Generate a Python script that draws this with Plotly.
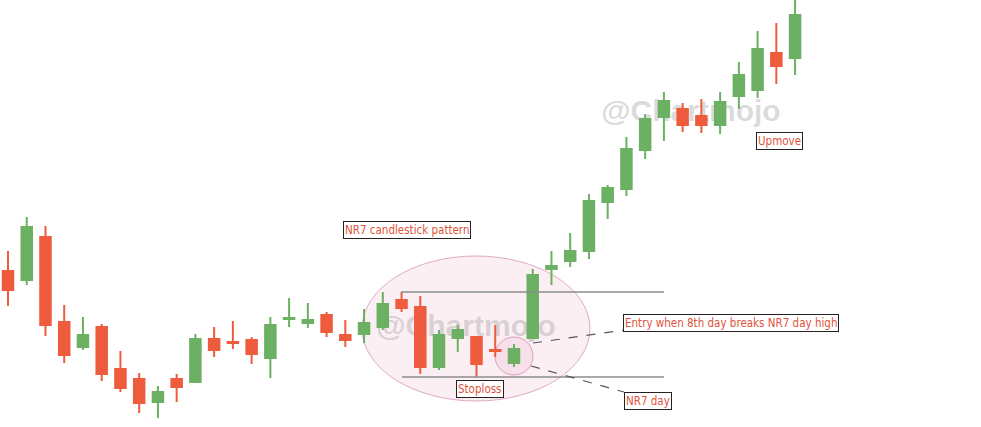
import plotly.graph_objects as go

# OHLC values (price units), 43 daily candles
day = list(range(43))
open_ = [179, 170, 213, 128, 103, 123, 81, 71, 48, 71, 68, 111, 108, 110, 92, 131, 127, 135, 115, 116, 123, 150, 143, 83, 112, 113, 100, 87, 112, 181, 189, 199, 248, 261, 300, 333, 341, 334, 325, 354, 360, 397, 392]
high_ = [199, 233, 224, 145, 133, 126, 99, 77, 64, 76, 116, 123, 129, 113, 133, 152, 147, 138, 130, 141, 158, 158, 154, 120, 125, 113, 125, 106, 181, 199, 217, 256, 265, 313, 336, 358, 347, 351, 358, 388, 419, 427, 455]
low_ = [144, 165, 114, 87, 100, 69, 58, 37, 32, 48, 67, 93, 101, 86, 72, 123, 122, 113, 103, 107, 120, 138, 76, 80, 98, 73, 93, 83, 111, 165, 183, 191, 231, 254, 291, 309, 318, 317, 316, 341, 352, 366, 375]
close_ = [160, 223, 125, 95, 115, 76, 62, 47, 58, 63, 111, 100, 107, 96, 125, 132, 130, 118, 110, 127, 146, 142, 83, 115, 120, 86, 99, 101, 175, 184, 199, 249, 262, 301, 331, 349, 325, 325, 348, 375, 401, 384, 435]

# annotation texts
label_pattern = "NR7 candlestick pattern"
label_upmove = "Upmove"
label_entry = "Entry when 8th day breaks NR7 day high"
label_nr7 = "NR7 day"
label_stop = "Stoploss"
watermark = "@Chartmojo"

GREEN = "#6bb063"
RED = "#ee5b3d"
TXT = "#e0533b"

W, H = 981, 427
X0, DX = 8.0, 18.74
XMIN = -X0 / DX
XMAX = XMIN + W / DX
YTOP = 450
YMIN = YTOP - H


def X(px):
    return XMIN + px / DX


def Y(py):
    return YTOP - py


fig = go.Figure()
fig.add_trace(go.Candlestick(
    x=day, open=open_, high=high_, low=low_, close=close_,
    increasing=dict(line=dict(color=GREEN, width=2), fillcolor=GREEN),
    decreasing=dict(line=dict(color=RED, width=2), fillcolor=RED),
    whiskerwidth=0, showlegend=False, hoverinfo="skip",
))

shapes = []
# big ellipse
shapes.append(dict(type="circle", xref="x", yref="y", x0=X(362), x1=X(590), y0=Y(256), y1=Y(401),
                   fillcolor="rgba(236,180,205,0.22)", line=dict(color="rgba(215,150,180,0.8)", width=1), layer="below"))
# small circle round NR7 day
shapes.append(dict(type="circle", xref="x", yref="y", x0=X(495), x1=X(533), y0=Y(337), y1=Y(375),
                   fillcolor="rgba(236,180,205,0.25)", line=dict(color="rgba(215,150,180,0.9)", width=1), layer="below"))
# watermarks (below the candles)
for cx, cy in [(691, 107), (466, 322)]:
    shapes.append(dict(type="rect", xref="x", yref="y", x0=X(cx - 95), x1=X(cx + 95), y0=Y(cy - 20), y1=Y(cy + 20),
                       line=dict(width=0), fillcolor="rgba(0,0,0,0)", layer="below",
                       label=dict(text="<b>" + watermark + "</b>", textposition="middle center",
                                  font=dict(family="Liberation Sans, Arial", size=30, color="rgba(140,140,140,0.32)"))))
# NR7 high / low reference lines
shapes.append(dict(type="line", xref="x", yref="y", x0=X(401), x1=X(664), y0=high_[21], y1=high_[21],
                   line=dict(color="#8c8c8c", width=1.3)))
shapes.append(dict(type="line", xref="x", yref="y", x0=X(402), x1=X(664), y0=low_[25], y1=low_[25],
                   line=dict(color="#8c8c8c", width=1.3)))
# dashed leaders
shapes.append(dict(type="line", xref="x", yref="y", x0=X(533), x1=X(625), y0=Y(343), y1=Y(330),
                   line=dict(color="#555555", width=1.2, dash="dash")))
shapes.append(dict(type="line", xref="x", yref="y", x0=X(531), x1=X(624), y0=Y(366), y1=Y(392),
                   line=dict(color="#555555", width=1.2, dash="dash")))

anns = []
FONT = dict(family="DejaVu Sans Condensed, DejaVu Sans", size=11.5, color=TXT)
for txt, cx, cy in [(label_pattern, 407, 230), (label_upmove, 779, 141), (label_entry, 731, 323),
                    (label_nr7, 648, 401), (label_stop, 480, 389)]:
    anns.append(dict(text=txt, x=X(cx), y=Y(cy), xref="x", yref="y", showarrow=False, font=FONT,
                     bgcolor="white", bordercolor="#222222", borderwidth=1, borderpad=1))

fig.update_layout(
    width=W, height=H, margin=dict(l=0, r=0, t=0, b=0),
    paper_bgcolor="white", plot_bgcolor="white",
    xaxis=dict(range=[XMIN, XMAX], visible=False, rangeslider=dict(visible=False), fixedrange=True),
    yaxis=dict(range=[YMIN, YTOP], visible=False, fixedrange=True),
    shapes=shapes, annotations=anns, boxgap=0.2, hovermode=False,
)
fig.write_html("out.html", config={"displayModeBar": False},
               post_script="document.body.style.margin='0';document.body.style.overflow='hidden';")
